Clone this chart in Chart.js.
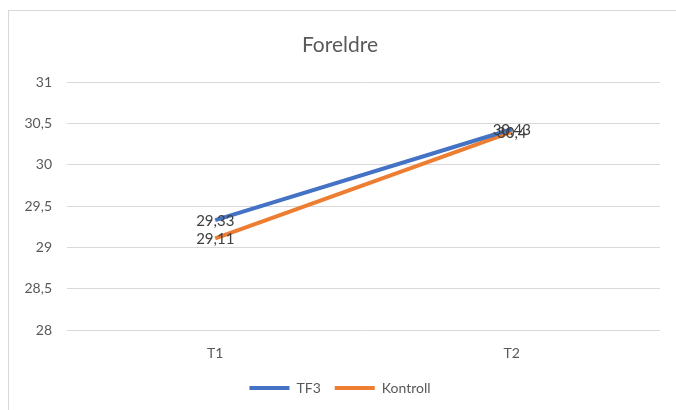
<!DOCTYPE html>
<html>
<head>
<meta charset="utf-8">
<script src="https://cdn.jsdelivr.net/npm/chart.js@4"></script>
<style>
  body { margin: 0; background: #fff; }
  #wrap { position: relative; width: 676px; height: 410px; overflow: hidden; }
  #frame { position: absolute; left: 8px; top: 10px; width: 680px; height: 420px; border: 1px solid #d9d9d9; box-sizing: border-box; pointer-events: none; }
  canvas { position: absolute; left: 0; top: 0; }
</style>
</head>
<body>
<div id="wrap">
  <canvas id="chart" width="676" height="410"></canvas>
  <div id="frame"></div>
</div>
<script>
// data
const categories = ["T1", "T2"];
const tf3 = [29.33, 30.43];
const kontroll = [29.11, 30.4];
const yTicks = [28, 28.5, 29, 29.5, 30, 30.5, 31];

const fontFamily = "Lato, 'Liberation Sans', sans-serif";
const fmt = v => String(v).replace(".", ",");

// tekst på punktene
const valueLabels = {
    id: "valueLabels",
    afterDatasetsDraw(chart) {
        const ctx = chart.ctx;
        ctx.save();
        ctx.font = "15px " + fontFamily;
        ctx.fillStyle = "#404040";
        ctx.textAlign = "center";
        ctx.textBaseline = "middle";
        chart.data.datasets.forEach((ds, i) => {
            chart.getDatasetMeta(i).data.forEach((pt, j) => {
                ctx.fillText(fmt(ds.data[j]), pt.x, pt.y + 1);
            });
        });
        ctx.restore();
    }
};

new Chart(document.getElementById("chart"), {
    type: "line",
    data: {
        labels: categories,
        datasets: [
            { label: "TF3", data: tf3, borderColor: "#4472C4", backgroundColor: "#4472C4", borderWidth: 4, pointRadius: 0, tension: 0 },
            { label: "Kontroll", data: kontroll, borderColor: "#ED7D31", backgroundColor: "#ED7D31", borderWidth: 4, pointRadius: 0, tension: 0 }
        ]
    },
    options: {
        responsive: false,
        animation: false,
        layout: { padding: { left: 20, right: 16, top: 0, bottom: 5 } },
        plugins: {
            title: {
                display: true,
                text: "Foreldre",
                color: "#595959",
                font: { family: fontFamily, size: 21, weight: "normal" },
                padding: { top: 33, bottom: 24 }
            },
            legend: {
                position: "bottom",
                labels: {
                    color: "#595959",
                    font: { family: fontFamily, size: 14 },
                    boxWidth: 40,
                    boxHeight: 4,
                    padding: 14,
                    generateLabels(chart) {
                        return Chart.defaults.plugins.legend.labels.generateLabels(chart).map(l => ({ ...l, lineWidth: 0 }));
                    }
                }
            },
            tooltip: { enabled: false }
        },
        scales: {
            x: {
                offset: true,
                afterFit(scale) { scale.height = 37; },
                grid: { display: false, drawTicks: false },
                border: { display: false },
                ticks: { color: "#595959", font: { family: fontFamily, size: 14 }, padding: 15 }
            },
            y: {
                min: yTicks[0],
                max: yTicks[yTicks.length - 1],
                afterBuildTicks(scale) { scale.ticks = yTicks.map(v => ({ value: v })); },
                afterFit(scale) { scale.width = 47; },
                grid: { color: "#d9d9d9", drawTicks: false },
                border: { display: false },
                ticks: { color: "#595959", font: { family: fontFamily, size: 14 }, padding: 15, callback: v => fmt(v) }
            }
        }
    },
    plugins: [valueLabels]
});
</script>
</body>
</html>
